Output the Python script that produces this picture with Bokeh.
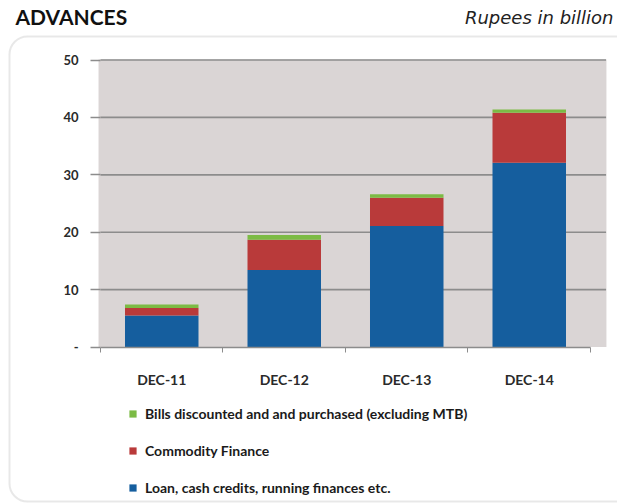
from bokeh.plotting import figure
from bokeh.models import (Range1d, FixedTicker, Legend, LegendItem, Label, BoxAnnotation,
                          LinearAxis)
from bokeh.embed import file_html
from bokeh.resources import INLINE

categories = ["DEC-11", "DEC-12", "DEC-13", "DEC-14"]
loans = [5.5, 13.4, 21.1, 32.1]
commodity = [1.3, 5.3, 4.9, 8.7]
bills = [0.6, 0.8, 0.6, 0.6]
y_ticks = [0, 10, 20, 30, 40, 50]
y_tick_labels = ["-", "10", "20", "30", "40", "50"]

series_names = ["Loan, cash credits, running finances etc.",
                "Commodity Finance",
                "Bills discounted and and purchased (excluding MTB)"]
colors = ["#155e9e", "#b93a3a", "#7cbb45"]

xs = list(range(len(categories)))
data = dict(x=xs, loans=loans, commodity=commodity, bills=bills)

GRID = "#8c8c8c"
FONT = "Lato"

# the frame covers the whole canvas; axes are pinned inside it
p = figure(width=617, height=503, output_backend="svg", toolbar_location=None,
           x_range=Range1d(-1.3163, 3.7204), y_range=Range1d(-27.26, 60.37),
           x_axis_location=None, y_axis_location=None,
           min_border=0, min_border_left=0, min_border_right=0,
           min_border_top=0, min_border_bottom=0,
           background_fill_color="white", border_fill_color="white",
           outline_line_color=None)
p.grid.visible = False

# grey plot area
p.add_layout(BoxAnnotation(left=-0.516, right=3.63, bottom=0, top=50.1,
                           fill_color="#dad5d5", fill_alpha=1, line_color=None,
                           level="image"))

# horizontal gridlines (nonzero ticks)
grid_vals = [t for t in y_ticks if t > 0]
p.segment(x0=[-0.5] * len(grid_vals), x1=[3.627] * len(grid_vals),
          y0=grid_vals, y1=grid_vals, line_color=GRID, line_width=1.6, level="underlay")

rs = p.vbar_stack(["loans", "commodity", "bills"], x="x", width=0.6, source=data,
                  color=colors, line_color=None)

# x axis
xa = LinearAxis(fixed_location=0)
xa.ticker = FixedTicker(ticks=xs, minor_ticks=[i - 0.5 for i in xs] + [xs[-1] + 0.5])
xa.major_label_overrides = {i: c for i, c in zip(xs, categories)}
xa.major_tick_line_color = None
xa.minor_tick_out = 5
xa.minor_tick_in = 0
xa.minor_tick_line_color = GRID
xa.axis_line_color = GRID
xa.axis_line_width = 1.6
xa.bounds = (-0.5, 3.5)
xa.major_label_standoff = 18
xa.major_label_text_font = FONT
xa.major_label_text_font_style = "bold"
xa.major_label_text_font_size = "14px"
xa.major_label_text_color = "#2a2a2a"
p.add_layout(xa, "below")

# y axis
ya = LinearAxis(fixed_location=-0.5)
ya.ticker = FixedTicker(ticks=y_ticks)
ya.major_label_overrides = {t: l for t, l in zip(y_ticks, y_tick_labels)}
ya.axis_line_color = None
ya.major_tick_out = 10
ya.major_tick_in = 0
ya.major_tick_line_color = GRID
ya.major_tick_line_width = 1.6
ya.minor_tick_line_color = None
ya.major_label_standoff = 12
ya.major_label_text_font = FONT
ya.major_label_text_font_style = "bold"
ya.major_label_text_font_size = "13px"
ya.major_label_text_color = "#2a2a2a"
p.add_layout(ya, "left")

# rounded frame around the chart
p.add_layout(BoxAnnotation(left=9, right=680, top=467, bottom=2,
                           left_units="screen", right_units="screen",
                           top_units="screen", bottom_units="screen",
                           fill_color=None, fill_alpha=0, line_color="#b3b3b3",
                           line_width=2, border_radius=18, level="overlay"))

legend = Legend(items=[LegendItem(label=series_names[i], renderers=[rs[i]]) for i in [2, 1, 0]],
                location=(128, 6), orientation="vertical",
                background_fill_alpha=0, border_line_color=None,
                padding=0, margin=0, spacing=17, glyph_width=9, glyph_height=9,
                label_standoff=8, label_text_font=FONT, label_text_font_size="14px",
                label_text_font_style="bold",
                label_text_color="#1a1a1a", label_height=20)
p.add_layout(legend, "center")

p.add_layout(Label(x=15, y=475, x_units="screen", y_units="screen", text="ADVANCES",
                   text_font=FONT, text_font_style="bold", text_font_size="21px",
                   text_color="#111111"))
p.add_layout(Label(x=613, y=476, x_units="screen", y_units="screen", text="Rupees in billion",
                   text_font="DejaVu Sans", text_font_style="italic", text_font_size="18px",
                   text_color="#222222", text_align="right"))

open("out.html", "w").write(file_html(p, INLINE))
